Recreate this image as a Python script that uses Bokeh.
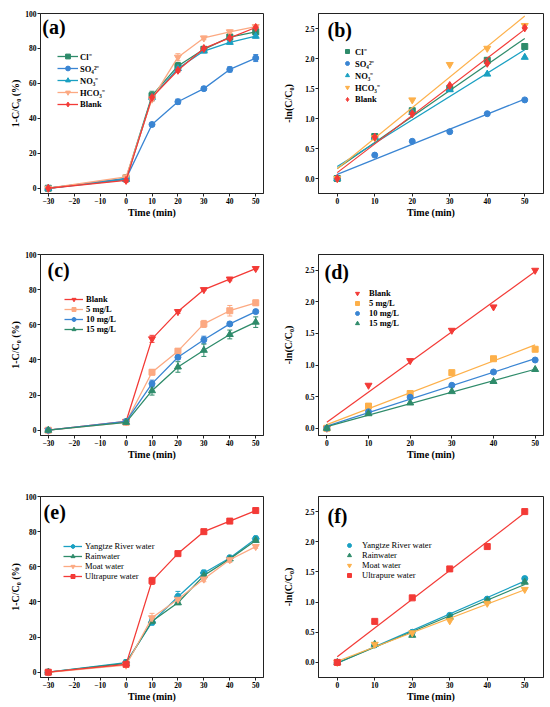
import numpy as np
from bokeh.plotting import figure
from bokeh.layouts import column, row
from bokeh.models import (ColumnDataSource, Whisker, TeeHead, Label, FixedTicker,
                          NumeralTickFormatter, Range1d)
from bokeh.embed import file_html
from bokeh.resources import INLINE

# ---------------- data ----------------
time_full = [-30, 0, 10, 20, 30, 40, 50]
time_fit = [0, 10, 20, 30, 40, 50]

# (a) anions, removal %
a_labels = ["Cl⁻", "SO₄²⁻", "NO₃⁻", "HCO₃⁻", "Blank"]
a_cl = [0, 5.7, 53, 70, 79.5, 86.5, 89.5]
a_so4 = [0, 5.5, 36.5, 49.5, 57, 68, 74.5]
a_no3 = [0, 5, 52, 68.5, 78.5, 83.5, 87]
a_hco3 = [0, 6.5, 51, 75, 86, 89.5, 92.5]
a_blank = [0, 4.5, 52, 67.5, 80, 86, 92]
a_cl_err = [0, 2, 2.5, 2, 1, 1, 1.5]
a_so4_err = [0, 1, 0.8, 1.5, 1, 1.5, 2]
a_no3_err = [0, 1, 2, 1.5, 1, 1, 1]
a_hco3_err = [0, 1, 1, 2, 1, 1, 1]
a_blank_err = [0, 1, 1.5, 1, 1, 1, 1]

# (b) anions, -ln(C/C0)
b_cl = [0, 0.70, 1.13, 1.50, 1.97, 2.20]
b_so4 = [0, 0.39, 0.62, 0.78, 1.08, 1.31]
b_no3 = [0, 0.69, 1.10, 1.48, 1.74, 2.02]
b_hco3 = [0, 0.68, 1.31, 1.90, 2.17, 2.55]
b_blank = [0, 0.69, 1.08, 1.55, 1.92, 2.51]

# (c) concentrations, removal %
c_labels = ["Blank", "5 mg/L", "10 mg/L", "15 mg/L"]
c_blank = [0, 5, 52, 67.5, 80, 86, 92]
c_5 = [0, 4.5, 33, 45, 60.5, 68, 72.5]
c_10 = [0, 5, 26.5, 41.5, 51.5, 60.5, 67.5]
c_15 = [0, 4.5, 22.5, 36, 45.5, 54.5, 61.5]
c_blank_err = [0, 0.5, 2, 1, 0.5, 1, 0.5]
c_5_err = [0, 0.5, 1.5, 1.5, 2, 3, 1.5]
c_10_err = [0, 0.5, 2, 1, 2, 1, 1]
c_15_err = [0, 1, 2.5, 3, 3.5, 2.5, 3]

# (d) concentrations, -ln(C/C0)
d_blank = [0, 0.68, 1.07, 1.55, 1.92, 2.50]
d_5 = [0, 0.35, 0.55, 0.88, 1.10, 1.25]
d_10 = [0, 0.26, 0.49, 0.68, 0.89, 1.08]
d_15 = [0, 0.23, 0.40, 0.58, 0.74, 0.93]

# (e) water matrices, removal %
e_labels = ["Yangtze River water", "Rainwater", "Moat water", "Ultrapure water"]
e_yangtze = [0, 5.5, 28.5, 43, 56.5, 65, 76]
e_rain = [0, 5, 29, 39.5, 55, 64.5, 75]
e_moat = [0, 4, 31, 41.5, 53, 64, 71.5]
e_ultra = [0, 4.5, 52, 67.5, 80, 86, 92]
e_yangtze_err = [0, 1.5, 1.5, 3, 1.5, 1, 1]
e_rain_err = [0, 1, 1.5, 1, 1.5, 1, 1]
e_moat_err = [0, 1, 2.5, 1.5, 1.5, 1.5, 1]
e_ultra_err = [0, 0.5, 2, 1, 0.5, 1, 0.5]

# (f) water matrices, -ln(C/C0)
f_yangtze = [0, 0.29, 0.50, 0.78, 1.05, 1.39]
f_rain = [0, 0.30, 0.45, 0.75, 1.02, 1.33]
f_moat = [0, 0.30, 0.49, 0.69, 0.98, 1.21]
f_ultra = [0, 0.68, 1.07, 1.55, 1.92, 2.50]

x_ticks_full = [-30, -20, -10, 0, 10, 20, 30, 40, 50]
x_ticks_fit = [0, 10, 20, 30, 40, 50]
y_ticks_pct = [0, 20, 40, 60, 80, 100]
y_ticks_ln = [0.0, 0.5, 1.0, 1.5, 2.0, 2.5]

# ---------------- style ----------------
FONT = "Liberation Serif"
GREEN = "#2e8b6a"
BLUE = "#3a85d3"
CYAN = "#1aa0c2"
SALMON = "#fca982"
ORANGE = "#fdb04a"
RED = "#f33a36"

YLAB_PCT = "1-C/C₀ (%)"
YLAB_LN = "-ln(C/C₀)"
XLAB = "Time (min)"


def make_fig(fw, fh, bl, br, bt, bb, xr, yr, xticks, yticks, ylab, ystand, yfmt=None):
    p = figure(frame_width=fw, frame_height=fh, output_backend="svg", toolbar_location=None,
               title=None, x_range=Range1d(*xr), y_range=Range1d(*yr),
               min_border_left=bl, min_border_right=br, min_border_top=bt, min_border_bottom=bb)
    p.outline_line_color = "#222222"
    p.outline_line_width = 1
    p.grid.visible = False
    p.background_fill_color = "white"
    p.border_fill_color = "white"
    for ax in (p.xaxis[0], p.yaxis[0]):
        ax.major_tick_in = 0
        ax.major_tick_out = 3
        ax.minor_tick_line_color = None
        ax.axis_line_color = "#222222"
        ax.major_tick_line_color = "#222222"
        ax.major_label_text_font = FONT
        ax.major_label_text_font_style = "bold"
        ax.major_label_text_font_size = "7.5px"
        ax.major_label_text_color = "black"
        ax.axis_label_text_font = FONT
        ax.axis_label_text_font_style = "bold"
        ax.axis_label_text_font_size = "10px"
        ax.axis_label_text_color = "black"
        ax.major_label_standoff = 1
    p.xaxis[0].ticker = FixedTicker(ticks=xticks)
    p.yaxis[0].ticker = FixedTicker(ticks=yticks)
    p.xaxis[0].axis_label = XLAB
    p.xaxis[0].axis_label_standoff = 0
    p.yaxis[0].axis_label = ylab
    p.yaxis[0].axis_label_standoff = ystand
    if yfmt:
        p.yaxis[0].formatter = NumeralTickFormatter(format=yfmt)
    return p


def panel_label(p, text, x, y):
    p.add_layout(Label(x=x, y=y, text=text, text_font=FONT, text_font_style="bold",
                       text_font_size="20px", text_baseline="middle", text_align="left",
                       text_color="black"))


def add_series(p, xs, ys, errs, color, marker, label, size):
    if errs is not None:
        lo = [v - e for v, e in zip(ys, errs)]
        hi = [v + e for v, e in zip(ys, errs)]
        src = ColumnDataSource(dict(x=xs, lower=lo, upper=hi))
        p.add_layout(Whisker(source=src, base="x", lower="lower", upper="upper",
                             line_color=color, line_width=1,
                             upper_head=TeeHead(size=5, line_color=color, line_width=1),
                             lower_head=TeeHead(size=5, line_color=color, line_width=1)))
        p.line(xs, ys, line_color=color, line_width=1.3, legend_label=label)
    p.scatter(xs, ys, marker=marker, size=size, fill_color=color, line_color=color,
              legend_label=label)


def add_fit(p, xs, ys, color):
    k, b = np.polyfit(np.array(xs, float), np.array(ys, float), 1)
    x0, x1 = xs[0], xs[-1]
    p.line([x0, x1], [k * x0 + b, k * x1 + b], line_color=color, line_width=1.2)


def style_legend(p, loc, gh, gw, standoff, spacing, bold=True):
    lg = p.legend[0]
    lg.location = loc
    lg.padding = 0
    lg.margin = 0
    lg.spacing = spacing
    lg.glyph_height = gh
    lg.label_height = gh
    lg.glyph_width = gw
    lg.label_standoff = standoff
    lg.label_text_font = FONT
    lg.label_text_font_size = "8.5px"
    lg.label_text_font_style = "bold" if bold else "normal"
    lg.label_text_color = "black"
    lg.border_line_color = None
    lg.background_fill_alpha = 0


# layout geometry (page origin at top-left, no body margin)
LEFT_B, LEFT_FW, LEFT_R = 40, 223, 12
RIGHT_B, RIGHT_FW, RIGHT_R = 43, 225, 5

# ---------------- (a) ----------------
pa = make_fig(LEFT_FW, 180, LEFT_B, LEFT_R, 13, 48, (-33, 53), (-3, 100), x_ticks_full, y_ticks_pct, YLAB_PCT, 1)
for ys, er, col, mk, lab, sz in [
        (a_cl, a_cl_err, GREEN, "square", a_labels[0], 6),
        (a_so4, a_so4_err, BLUE, "circle", a_labels[1], 6),
        (a_no3, a_no3_err, CYAN, "triangle", a_labels[2], 7),
        (a_hco3, a_hco3_err, SALMON, "inverted_triangle", a_labels[3], 7),
        (a_blank, a_blank_err, RED, "diamond", a_labels[4], 8)]:
    add_series(pa, time_full, ys, er, col, mk, lab, sz)
style_legend(pa, (17, 83), 12, 21, 2, 0)
panel_label(pa, "(a)", -32.3, 92)

# ---------------- (b) ----------------
pb = make_fig(RIGHT_FW, 180, RIGHT_B, RIGHT_R, 13, 48, (-5, 55), (-0.25, 2.75), x_ticks_fit, y_ticks_ln, YLAB_LN, 8, "0.0")
for ys, col, mk, lab, sz in [
        (b_cl, GREEN, "square", a_labels[0], 6),
        (b_so4, BLUE, "circle", a_labels[1], 6),
        (b_no3, CYAN, "triangle", a_labels[2], 7),
        (b_hco3, ORANGE, "inverted_triangle", a_labels[3], 7),
        (b_blank, RED, "diamond", a_labels[4], 8)]:
    add_fit(pb, time_fit, ys, col)
    add_series(pb, time_fit, ys, None, col, mk, lab, sz)
style_legend(pb, (24, 88), 12, 10, 3, 0)
panel_label(pb, "(b)", -2.6, 2.48)

# ---------------- (c) ----------------
pc = make_fig(LEFT_FW, 181, LEFT_B, LEFT_R, 13, 47, (-33, 53), (-3, 100), x_ticks_full, y_ticks_pct, YLAB_PCT, 1)
for ys, er, col, mk, lab, sz in [
        (c_blank, c_blank_err, RED, "inverted_triangle", c_labels[0], 7),
        (c_5, c_5_err, SALMON, "square", c_labels[1], 6),
        (c_10, c_10_err, BLUE, "circle", c_labels[2], 6),
        (c_15, c_15_err, GREEN, "triangle", c_labels[3], 7)]:
    add_series(pc, time_full, ys, er, col, mk, lab, sz)
style_legend(pc, (24, 101), 10, 19, 3, -2)
panel_label(pc, "(c)", -30.3, 91.4)

# ---------------- (d) ----------------
pd_ = make_fig(RIGHT_FW, 181, RIGHT_B, RIGHT_R, 13, 47, (-2, 52), (-0.115, 2.75), x_ticks_fit, y_ticks_ln, YLAB_LN, 8, "0.0")
for ys, col, mk, lab, sz in [
        (d_blank, RED, "inverted_triangle", c_labels[0], 7),
        (d_5, ORANGE, "square", c_labels[1], 6),
        (d_10, BLUE, "circle", c_labels[2], 6),
        (d_15, GREEN, "triangle", c_labels[3], 7)]:
    add_fit(pd_, time_fit, ys, col)
    add_series(pd_, time_fit, ys, None, col, mk, lab, sz)
style_legend(pd_, (32, 107), 10, 14, 5, -2)
panel_label(pd_, "(d)", -0.55, 2.47)

# ---------------- (e) ----------------
pe = make_fig(LEFT_FW, 181, LEFT_B, LEFT_R, 14, 27, (-33, 53), (-3, 100), x_ticks_full, y_ticks_pct, YLAB_PCT, 1)
for ys, er, col, mk, lab, sz in [
        (e_yangtze, e_yangtze_err, CYAN, "hex", e_labels[0], 7),
        (e_rain, e_rain_err, GREEN, "triangle", e_labels[1], 7),
        (e_moat, e_moat_err, SALMON, "inverted_triangle", e_labels[2], 7),
        (e_ultra, e_ultra_err, RED, "square", e_labels[3], 6)]:
    add_series(pe, time_full, ys, er, col, mk, lab, sz)
style_legend(pe, (23, 96), 10, 19, 3, -2, bold=False)
panel_label(pe, "(e)", -31.8, 91)

# ---------------- (f) ----------------
pf = make_fig(RIGHT_FW, 181, RIGHT_B, RIGHT_R, 14, 27, (-5, 55), (-0.25, 2.75), x_ticks_fit, y_ticks_ln, YLAB_LN, 8, "0.0")
for ys, col, mk, lab, sz in [
        (f_yangtze, CYAN, "circle", e_labels[0], 6),
        (f_rain, GREEN, "triangle", e_labels[1], 7),
        (f_moat, ORANGE, "inverted_triangle", e_labels[2], 7),
        (f_ultra, RED, "square", e_labels[3], 6)]:
    add_fit(pf, time_fit, ys, col)
    add_series(pf, time_fit, ys, None, col, mk, lab, sz)
style_legend(pf, (25, 97), 10, 12, 7, -2, bold=False)
panel_label(pf, "(f)", -2.6, 2.42)

layout = column(row(pa, pb), row(pc, pd_), row(pe, pf))
open("out.html", "w").write(file_html(layout, INLINE))
